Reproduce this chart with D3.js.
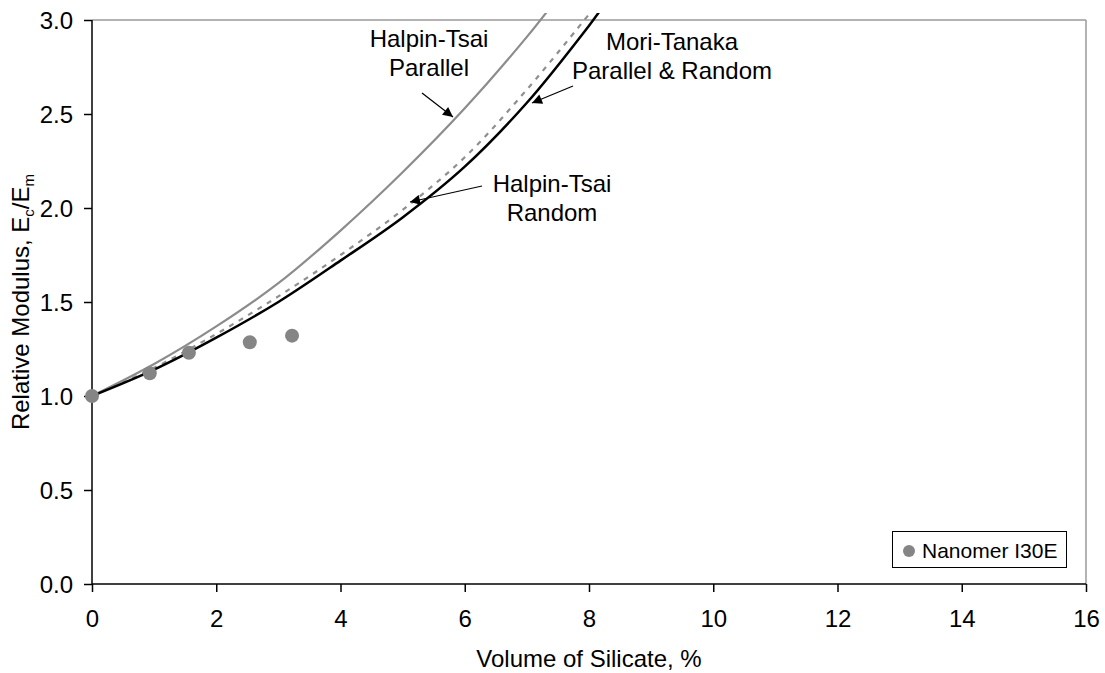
<!DOCTYPE html>
<html>
<head>
<meta charset="utf-8">
<script src="https://cdn.jsdelivr.net/npm/d3@7"></script>
<style>
body { margin:0; background:#fff; }
text { font-family: Arial, "Liberation Sans", sans-serif; fill:#000; }
</style>
</head>
<body>
<svg id="chart" width="1105" height="673"></svg>
<script>
// volume of silicate, %
var htParallelX = [0, 1, 2, 3, 4, 5, 6, 7, 7.5];
var htParallelY = [1.0, 1.17, 1.37, 1.60, 1.88, 2.19, 2.53, 2.91, 3.12];

var htRandomX = [0, 1, 2, 3, 4, 5, 6, 7, 8, 8.1];
var htRandomY = [1.0, 1.15, 1.33, 1.53, 1.75, 1.99, 2.27, 2.63, 3.03, 3.07];

var moriTanakaX = [0, 1, 2, 3, 4, 5, 6, 7, 8, 8.2];
var moriTanakaY = [1.0, 1.14, 1.31, 1.50, 1.72, 1.95, 2.22, 2.56, 2.97, 3.06];

var nanomerX = [0, 0.93, 1.56, 2.54, 3.22];
var nanomerY = [1.0, 1.121, 1.230, 1.286, 1.321];

var xTicks = [0, 2, 4, 6, 8, 10, 12, 14, 16];
var yTicks = [0.0, 0.5, 1.0, 1.5, 2.0, 2.5, 3.0];

var plotLeft = 92, plotRight = 1086, plotTop = 20, plotBottom = 584;
var axisFont = 24;
var legendFont = 21;

var svg = d3.select('#chart');

var xScale = d3.scaleLinear().domain([0, 16]).range([plotLeft, plotRight]);
var yScale = d3.scaleLinear().domain([0, 3]).range([plotBottom, plotTop]);

var defs = svg.append('defs');
defs.append('clipPath')
	.attr('id', 'plot-clip')
	.append('rect')
	.attr('x', plotLeft)
	.attr('y', plotTop - 7)
	.attr('width', plotRight - plotLeft)
	.attr('height', plotBottom - plotTop + 7);

var marker = defs.append('marker')
	.attr('id', 'arrow')
	.attr('viewBox', '0 0 10 10')
	.attr('refX', 10)
	.attr('refY', 5)
	.attr('markerUnits', 'userSpaceOnUse')
	.attr('markerWidth', 12)
	.attr('markerHeight', 10)
	.attr('orient', 'auto');
marker.append('path')
	.attr('d', 'M0,0 L10,5 L0,10 Z')
	.attr('fill', '#000');

// grey frame on top and right
svg.append('line')
	.attr('x1', plotLeft).attr('x2', plotRight)
	.attr('y1', plotTop).attr('y2', plotTop)
	.attr('stroke', '#9a9a9a').attr('stroke-width', 1.5);
svg.append('line')
	.attr('x1', plotRight).attr('x2', plotRight)
	.attr('y1', plotTop).attr('y2', plotBottom)
	.attr('stroke', '#9a9a9a').attr('stroke-width', 1.5);

var xAxis = d3.axisBottom(xScale)
	.tickValues(xTicks)
	.tickSize(8)
	.tickFormat(d3.format('d'));
var yAxis = d3.axisLeft(yScale)
	.tickValues(yTicks)
	.tickSize(8)
	.tickFormat(d3.format('.1f'));

var gx = svg.append('g')
	.attr('transform', 'translate(0,' + plotBottom + ')')
	.call(xAxis);
var gy = svg.append('g')
	.attr('transform', 'translate(' + plotLeft + ',0)')
	.call(yAxis);

[gx, gy].forEach(function(g)
{
	g.selectAll('path').attr('stroke', '#000').attr('stroke-width', 1.5);
	g.selectAll('line').attr('stroke', '#000').attr('stroke-width', 1.5);
	g.selectAll('text')
		.attr('font-size', axisFont)
		.attr('font-family', 'Arial, "Liberation Sans", sans-serif')
		.attr('fill', '#000');
});
gx.select('.domain').attr('d', 'M' + plotLeft + ',0H' + plotRight);
gy.select('.domain').attr('d', 'M0,' + plotBottom + 'V' + plotTop);
gx.selectAll('text').attr('y', 43).attr('dy', 0);
gy.selectAll('text').attr('x', -19).attr('dy', '0.36em');

// axis titles
svg.append('text')
	.attr('x', (plotLeft + plotRight) / 2)
	.attr('y', 667)
	.attr('text-anchor', 'middle')
	.attr('font-size', axisFont)
	.text('Volume of Silicate, %');

var yTitle = svg.append('text')
	.attr('transform', 'translate(29,' + ((plotTop + plotBottom) / 2) + ') rotate(-90)')
	.attr('text-anchor', 'middle')
	.attr('font-size', axisFont);
yTitle.append('tspan').text('Relative Modulus, E');
yTitle.append('tspan').attr('font-size', 15).attr('dy', 5).text('c');
yTitle.append('tspan').attr('dy', -5).text('/E');
yTitle.append('tspan').attr('font-size', 15).attr('dy', 5).text('m');

// model curves
function makeLine(xs, ys)
{
	var pts = xs.map(function(x, i){ return [x, ys[i]]; });
	var line = d3.line()
		.x(function(d){ return xScale(d[0]); })
		.y(function(d){ return yScale(d[1]); })
		.curve(d3.curveCatmullRom.alpha(0.5));
	return line(pts);
}

var curveGroup = svg.append('g').attr('clip-path', 'url(#plot-clip)');

curveGroup.append('path')
	.attr('d', makeLine(htParallelX, htParallelY))
	.attr('fill', 'none')
	.attr('stroke', '#8c8c8c')
	.attr('stroke-width', 2.2);

curveGroup.append('path')
	.attr('d', makeLine(htRandomX, htRandomY))
	.attr('fill', 'none')
	.attr('stroke', '#8f8f8f')
	.attr('stroke-width', 2.2)
	.attr('stroke-dasharray', '5,6');

curveGroup.append('path')
	.attr('d', makeLine(moriTanakaX, moriTanakaY))
	.attr('fill', 'none')
	.attr('stroke', '#000')
	.attr('stroke-width', 2.5);

// experimental points
svg.append('g')
	.selectAll('circle')
	.data(nanomerX)
	.enter()
	.append('circle')
	.attr('cx', function(d){ return xScale(d); })
	.attr('cy', function(d, i){ return yScale(nanomerY[i]); })
	.attr('r', 7)
	.attr('fill', '#858585');

// annotations
function label(lines, cx, y0)
{
	var t = svg.append('text')
		.attr('text-anchor', 'middle')
		.attr('font-size', axisFont);
	lines.forEach(function(s, i)
	{
		t.append('tspan')
			.attr('x', cx)
			.attr('y', y0 + i * 29)
			.text(s);
	});
}
function arrow(x1, y1, x2, y2)
{
	svg.append('line')
		.attr('x1', x1).attr('y1', y1)
		.attr('x2', x2).attr('y2', y2)
		.attr('stroke', '#000')
		.attr('stroke-width', 1.2)
		.attr('marker-end', 'url(#arrow)');
}

label(['Halpin-Tsai', 'Parallel'], 429, 47);
arrow(422, 93, 453, 117);

label(['Mori-Tanaka', 'Parallel & Random'], 672, 50);
arrow(573, 86, 532, 103);

label(['Halpin-Tsai', 'Random'], 552, 192);
arrow(482, 186, 410, 202);

// legend
var legend = svg.append('g');
legend.append('rect')
	.attr('x', 892.5).attr('y', 531.5)
	.attr('width', 174).attr('height', 36)
	.attr('fill', '#fff')
	.attr('stroke', '#000')
	.attr('stroke-width', 1);
legend.append('circle')
	.attr('cx', 909).attr('cy', 551)
	.attr('r', 6)
	.attr('fill', '#858585');
legend.append('text')
	.attr('x', 922).attr('y', 558)
	.attr('font-size', legendFont)
	.text('Nanomer I30E');
</script>
</body>
</html>
